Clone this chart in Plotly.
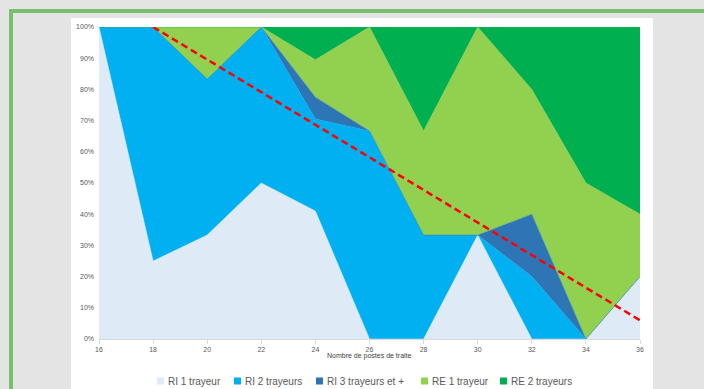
import plotly.graph_objects as go

# Nombre de postes de traite
postes = [16, 18, 20, 22, 24, 26, 28, 30, 32, 34, 36]

# Répartition (%) par type de salle et nombre de trayeurs
ri_1_trayeur = [100, 25, 33.3, 50, 41, 0, 0, 33.3, 0, 0, 20]
ri_2_trayeurs = [0, 75, 50, 50, 29.5, 66.7, 33.3, 0, 20, 0, 0]
ri_3_trayeurs = [0, 0, 0, 0, 7, 0, 0, 0, 20, 0, 0]
re_1_trayeur = [0, 0, 16.7, 0, 12, 33.3, 33.4, 66.7, 40, 50, 20]
re_2_trayeurs = [0, 0, 0, 0, 10.5, 0, 33.3, 0, 20, 50, 60]

# Tendance linéaire
tendance_x = [18, 36]
tendance_y = [100, 6]

y_ticks = list(range(0, 101, 10))
y_labels = [f"{v}%" for v in y_ticks]

series = [
    ("RI 1 trayeur", ri_1_trayeur, "#DEEAF6"),
    ("RI 2 trayeurs", ri_2_trayeurs, "#00B0F0"),
    ("RI 3 trayeurs et +", ri_3_trayeurs, "#2E75B6"),
    ("RE 1 trayeur", re_1_trayeur, "#92D050"),
    ("RE 2 trayeurs", re_2_trayeurs, "#00B050"),
]

fig = go.Figure()
for name, vals, color in series:
    fig.add_trace(go.Scatter(
        x=postes, y=vals, name=name, stackgroup="one",
        mode="lines", line=dict(width=0.5, color=color),
        fillcolor=color, showlegend=False,
    ))

fig.add_trace(go.Scatter(
    x=tendance_x, y=tendance_y, mode="lines", showlegend=False,
    line=dict(color="#FF0000", width=2.5, dash="7px,4px"),
))

L, R, T, B = 99, 64, 27, 50
W, H = 704, 389
pw, ph = W - L - R, H - T - B


def px_x(p):
    return (p - L) / pw


def px_y(p):
    return (H - B - p) / ph


shapes = [
    # white card behind the chart
    dict(type="rect", xref="paper", yref="paper", layer="below",
         x0=px_x(71), x1=px_x(653), y0=px_y(400), y1=px_y(18),
         fillcolor="white", line=dict(width=0)),
    # green frame (top and left edges)
    dict(type="line", xref="paper", yref="paper",
         x0=px_x(9), x1=px_x(720), y0=px_y(11), y1=px_y(11),
         line=dict(color="#76BF6B", width=4)),
    dict(type="line", xref="paper", yref="paper",
         x0=px_x(11), x1=px_x(11), y0=px_y(9), y1=px_y(400),
         line=dict(color="#76BF6B", width=4)),
]

annotations = [
    dict(text="Nombre de postes de traite", xref="paper", yref="paper",
         x=0.5, y=px_y(356), xanchor="center", yanchor="middle",
         showarrow=False, font=dict(size=7, color="#404040")),
]

# Legend row: coloured square + label for each series
legend_x = [157, 234, 316, 421, 500]
legend_y = 381
for (name, vals, color), lx in zip(series, legend_x):
    shapes.append(dict(type="rect", xref="paper", yref="paper",
                       x0=px_x(lx), x1=px_x(lx + 7),
                       y0=px_y(legend_y + 3.5), y1=px_y(legend_y - 3.5),
                       fillcolor=color, line=dict(width=0)))
    annotations.append(dict(text=name, xref="paper", yref="paper",
                            x=px_x(lx + 9), y=px_y(legend_y),
                            xanchor="left", yanchor="middle", showarrow=False,
                            font=dict(size=10, color="#595959")))

fig.update_layout(
    width=W, height=H,
    margin=dict(l=L, r=R, t=T, b=B),
    paper_bgcolor="#E4E4E4",
    plot_bgcolor="white",
    shapes=shapes,
    annotations=annotations,
    showlegend=False,
    font=dict(family="Liberation Sans", color="#595959"),
    xaxis=dict(
        range=[16, 36], tickmode="array", tickvals=list(range(16, 37, 2)),
        showgrid=False, zeroline=False, showline=True, linecolor="#D9D9D9",
        ticks="outside", ticklen=4, tickcolor="#D9D9D9",
        tickfont=dict(size=7, color="#595959"), automargin=False,
    ),
    yaxis=dict(
        range=[0, 100], tickmode="array", tickvals=y_ticks, ticktext=y_labels,
        showgrid=False, zeroline=False, automargin=False,
        tickfont=dict(size=7, color="#595959"), ticklabelstandoff=4,
    ),
)

fig.write_html("out.html")
